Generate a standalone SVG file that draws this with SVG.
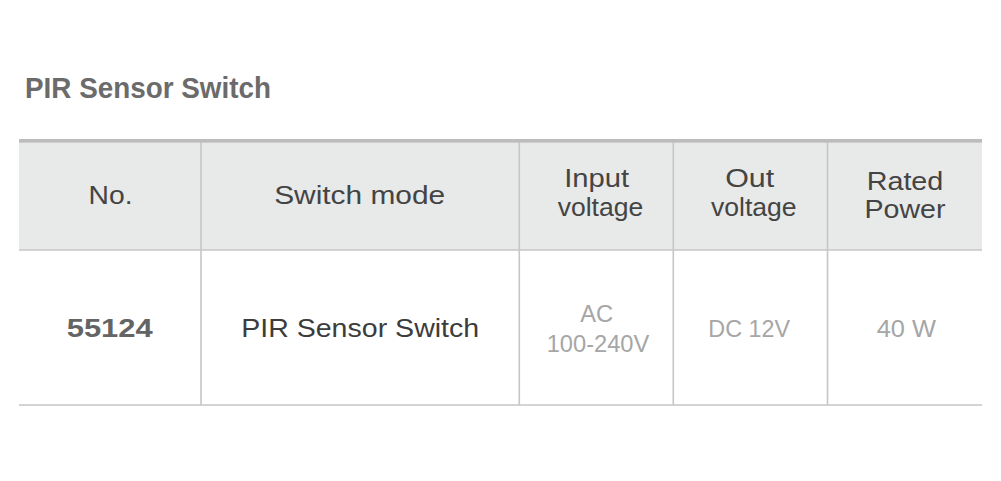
<svg xmlns="http://www.w3.org/2000/svg" width="1001" height="481" viewBox="0 0 1001 481">
<style>
text{font-family:"Liberation Sans",Arial,sans-serif;text-anchor:middle}
.title{font-weight:bold;font-size:30px;fill:#6b6b6b;text-anchor:start}
.hd{font-size:25px;fill:#444}
.num{font-size:25px;fill:#646464;font-weight:bold}
.bd{font-size:25px;fill:#3c3c3c}
.lt{font-size:24px;fill:#a6a6a6}
.ln{stroke:#c6c6c6;stroke-width:1.6;fill:none}
</style>
<rect width="1001" height="481" fill="#fff"/>
<text class="title" x="25" y="98" textLength="246" lengthAdjust="spacingAndGlyphs">PIR Sensor Switch</text>
<g id="table">
<rect x="19" y="142" width="963" height="108" fill="#e8e9e9"/>
<rect x="19" y="139" width="963" height="3.6" fill="#bcbcbc"/>
<g id="grid">
<line class="ln" x1="19" y1="250" x2="982" y2="250"/>
<line class="ln" x1="19" y1="405" x2="982" y2="405"/>
<line class="ln" x1="201" y1="142" x2="201" y2="405"/>
<line class="ln" x1="519.3" y1="142" x2="519.3" y2="405"/>
<line class="ln" x1="673.3" y1="142" x2="673.3" y2="405"/>
<line class="ln" x1="827.5" y1="142" x2="827.5" y2="405"/>
</g>
</g>
<g id="header">
<text class="hd" x="110.5" y="204.3" textLength="44" lengthAdjust="spacingAndGlyphs">No.</text>
<text class="hd" x="359.7" y="204.3" textLength="171" lengthAdjust="spacingAndGlyphs">Switch mode</text>
<text class="hd" x="596.7" y="186.7" textLength="65" lengthAdjust="spacingAndGlyphs">Input</text>
<text class="hd" x="600.5" y="216" textLength="85.6" lengthAdjust="spacingAndGlyphs">voltage</text>
<text class="hd" x="749.7" y="186.7" textLength="49" lengthAdjust="spacingAndGlyphs">Out</text>
<text class="hd" x="753.8" y="216" textLength="85.7" lengthAdjust="spacingAndGlyphs">voltage</text>
<text class="hd" x="905" y="189.8" textLength="76.7" lengthAdjust="spacingAndGlyphs">Rated</text>
<text class="hd" x="905" y="218.3" textLength="81" lengthAdjust="spacingAndGlyphs">Power</text>
</g>
<g id="row">
<text class="num" x="109.7" y="336.7" textLength="86" lengthAdjust="spacingAndGlyphs">55124</text>
<text class="bd" x="360.2" y="336.7" textLength="238" lengthAdjust="spacingAndGlyphs">PIR Sensor Switch</text>
<text class="lt" x="596.7" y="321.7" textLength="33" lengthAdjust="spacingAndGlyphs">AC</text>
<text class="lt" x="598" y="352.3" textLength="102.7" lengthAdjust="spacingAndGlyphs">100-240V</text>
<text class="lt" x="749.2" y="336.7" textLength="81.7" lengthAdjust="spacingAndGlyphs">DC 12V</text>
<text class="lt" x="906.3" y="336.7" textLength="59.3" lengthAdjust="spacingAndGlyphs">40 W</text>
</g>
</svg>
